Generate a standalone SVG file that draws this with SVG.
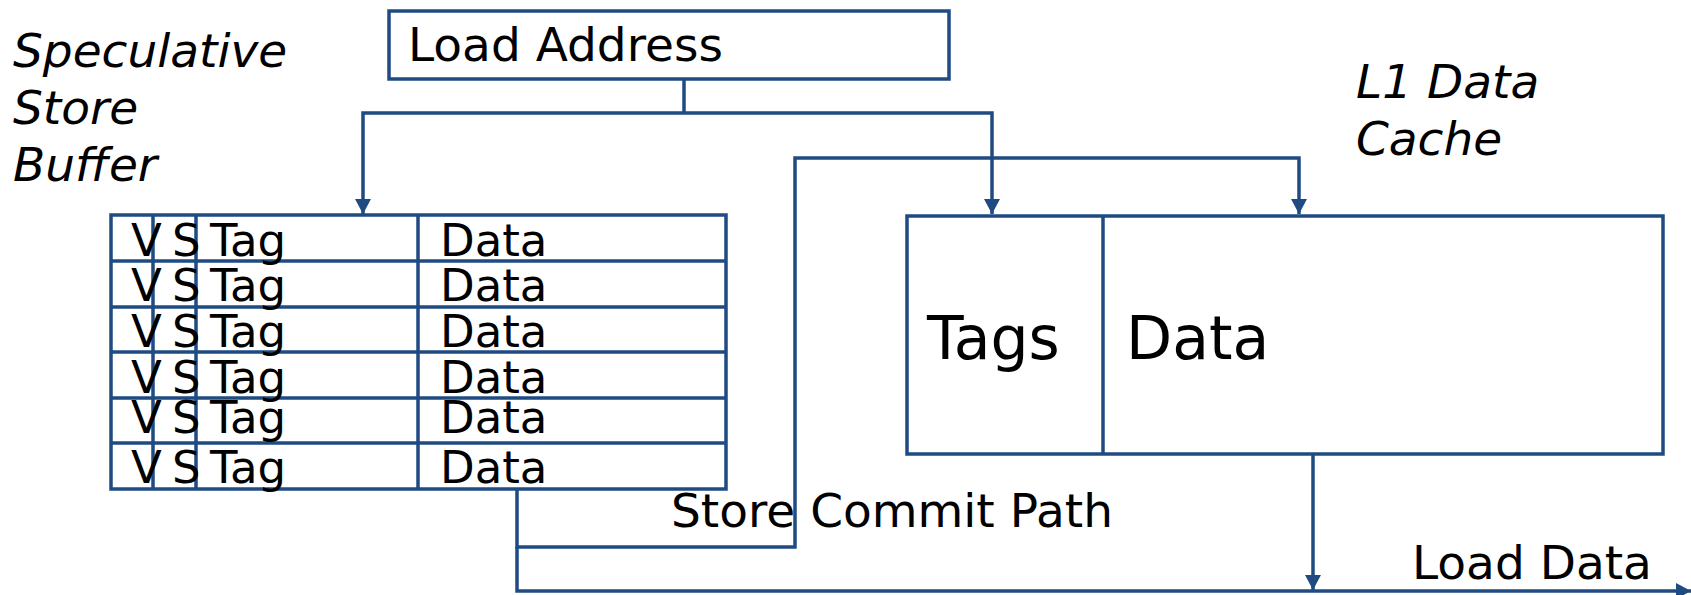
<svg xmlns="http://www.w3.org/2000/svg" width="1691" height="595" viewBox="0 0 1691 595">
  <style>
    .box { fill: #ffffff; stroke: #1f4b82; stroke-width: 3.5; }
    .div { fill: none; stroke: #1f4b82; stroke-width: 3.5; }
    .wire { fill: none; stroke: #1f4b82; stroke-width: 3.5; stroke-linejoin: miter; }
    .t { font-family: "DejaVu Sans", Verdana, sans-serif; fill: #000000; }
    .lbl { font-size: 47px; }
    .cell { font-size: 45px; }
    .big { font-size: 60px; }
    .it { font-style: italic; font-size: 47px; }
  </style>
  <defs>
    <marker id="arrow" markerUnits="userSpaceOnUse" markerWidth="16" markerHeight="16" refX="15" refY="8" orient="auto">
      <path d="M0,0 L15,8 L0,16 Z" fill="#1f4b82"/>
    </marker>
  </defs>

  <rect width="1691" height="595" fill="#ffffff"/>

  <!-- captions -->
  <g id="caption-ssb">
    <text class="t it" x="13" y="67">Speculative</text>
    <text class="t it" x="13" y="124">Store</text>
    <text class="t it" x="13" y="181">Buffer</text>
  </g>
  <g id="caption-l1">
    <text class="t it" x="1356" y="98">L1 Data</text>
    <text class="t it" x="1356" y="155">Cache</text>
  </g>

  <!-- load address register -->
  <g id="load-address">
    <rect class="box" x="389" y="11" width="560" height="68"/>
    <text class="t lbl" x="408" y="61">Load Address</text>
  </g>

  <!-- speculative store buffer: six entries of V, S, Tag, Data -->
  <g id="store-buffer">
    <rect class="box" x="111" y="215" width="615" height="274"/>
    <path class="div" d="M111,261 H726 M111,307 H726 M111,352 H726 M111,398 H726 M111,443 H726"/>
    <path class="div" d="M153,215 V489 M196,215 V489 M418,215 V489"/>
    <g class="t cell">
      <text x="131" y="256">V</text><text x="172" y="256">S</text><text x="210" y="256">Tag</text><text x="440" y="256">Data</text>
      <text x="131" y="301">V</text><text x="172" y="301">S</text><text x="210" y="301">Tag</text><text x="440" y="301">Data</text>
      <text x="131" y="347">V</text><text x="172" y="347">S</text><text x="210" y="347">Tag</text><text x="440" y="347">Data</text>
      <text x="131" y="393">V</text><text x="172" y="393">S</text><text x="210" y="393">Tag</text><text x="440" y="393">Data</text>
      <text x="131" y="433">V</text><text x="172" y="433">S</text><text x="210" y="433">Tag</text><text x="440" y="433">Data</text>
      <text x="131" y="483">V</text><text x="172" y="483">S</text><text x="210" y="483">Tag</text><text x="440" y="483">Data</text>
    </g>
  </g>

  <!-- L1 data cache -->
  <g id="l1-cache">
    <rect class="box" x="907" y="216" width="756" height="238"/>
    <path class="div" d="M1103,216 V454"/>
    <text class="t big" x="927" y="359">Tags</text>
    <text class="t big" x="1126" y="359">Data</text>
  </g>

  <!-- connectors -->
  <g id="connectors">
    <path class="wire" d="M684,79 V113"/>
    <path class="wire" d="M684,113 H363 V214" marker-end="url(#arrow)"/>
    <path class="wire" d="M684,113 H992 V214" marker-end="url(#arrow)"/>
    <!-- store commit path -->
    <path class="wire" d="M517,489 V547 H795 V158 H1299 V214" marker-end="url(#arrow)"/>
    <!-- load data -->
    <path class="wire" d="M517,547 V591 H1691" marker-end="url(#arrow)"/>
    <path class="wire" d="M1313,454 V590" marker-end="url(#arrow)"/>
  </g>

  <g id="path-labels">
    <text class="t lbl" x="671" y="527">Store Commit Path</text>
    <text class="t lbl" x="1412" y="579">Load Data</text>
  </g>
</svg>
